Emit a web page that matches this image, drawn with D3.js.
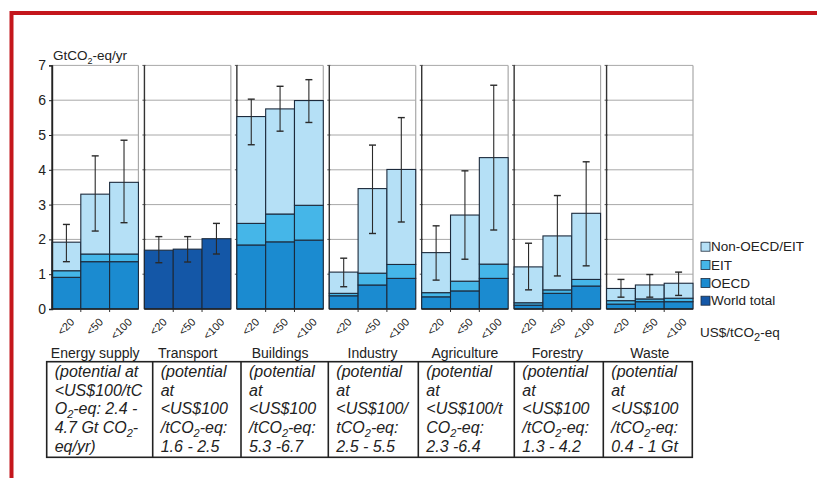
<!DOCTYPE html>
<html>
<head>
<meta charset="utf-8">
<script src="https://cdn.jsdelivr.net/npm/d3@7"></script>
<style>
  body { margin: 0; background: #fff; }
  text { font-family: "Liberation Sans", Arial, sans-serif; fill: #222; }
</style>
</head>
<body>
<div id="container"></div>
<script>
/* DATA */
const sectors = ["Energy supply", "Transport", "Buildings", "Industry", "Agriculture", "Forestry", "Waste"];
const prices = ["<20", "<50", "<100"];

// stacked values per sector (GtCO2-eq/yr), one per price level
const oecd = [
  [0.91, 1.36, 1.36],
  [null, null, null],
  [1.84, 1.93, 1.98],
  [0.38, 0.69, 0.88],
  [0.35, 0.52, 0.88],
  [0.11, 0.45, 0.66],
  [0.14, 0.21, 0.21]
];
const eit = [
  [1.10, 1.58, 1.58],
  [null, null, null],
  [2.46, 2.73, 2.98],
  [0.45, 1.03, 1.28],
  [0.47, 0.80, 1.29],
  [0.18, 0.55, 0.85],
  [0.24, 0.29, 0.31]
];
const total = [
  [1.92, 3.30, 3.64],
  [1.69, 1.72, 2.02],
  [5.53, 5.75, 5.99],
  [1.06, 3.46, 4.01],
  [1.62, 2.70, 4.35],
  [1.21, 2.10, 2.75],
  [0.59, 0.69, 0.74]
];
const errLow = [
  [1.36, 2.24, 2.48],
  [1.33, 1.35, 1.58],
  [4.72, 5.11, 5.36],
  [0.64, 2.17, 2.50],
  [0.83, 1.43, 2.27],
  [0.55, 0.95, 1.24],
  [0.34, 0.34, 0.39]
];
const errHigh = [
  [2.43, 4.40, 4.85],
  [2.08, 2.08, 2.46],
  [6.03, 6.40, 6.59],
  [1.46, 4.71, 5.50],
  [2.39, 3.97, 6.43],
  [1.89, 3.26, 4.23],
  [0.85, 0.99, 1.06]
];
const yTicks = [0, 1, 2, 3, 4, 5, 6, 7];

const legendLabels = ["Non-OECD/EIT", "EIT", "OECD", "World total"];

// table text, "_2" marks a subscript 2
const notes = [
  ["(potential at", "<US$100/tC", "O_2-eq: 2.4 -", "4.7 Gt CO_2-", "eq/yr)"],
  ["(potential", "at", "<US$100", "/tCO_2-eq:", "1.6 - 2.5"],
  ["(potential", "at", "<US$100", "/tCO_2-eq:", "5.3 -6.7"],
  ["(potential", "at", "<US$100/", "tCO_2-eq:", "2.5 - 5.5"],
  ["(potential", "at", "<US$100/t", "CO_2-eq:", "2.3  -6.4"],
  ["(potential", "at", "<US$100", "/tCO_2-eq:", "1.3 - 4.2"],
  ["(potential", "at", "<US$100", "/tCO_2-eq:", "0.4 - 1 Gt"]
];

/* CONSTANTS */
const width = 817, height = 478;
const plot = {left: 52, right: 693, top: 65.4, bottom: 309};
const colors = {
  nonOecd: "#b5e0f6",
  eit: "#45b6e8",
  oecd: "#1b8bd0",
  world: "#1457a7"
};
const legendColors = [colors.nonOecd, colors.eit, colors.oecd, colors.world];
const tableEdges = [46.7, 152.7, 241, 328.3, 418.3, 514.3, 603.3, 692.3];
const tableTop = 361.7, tableBottom = 457.3;

const svg = d3.select("#container")
  .append("svg")
  .attr("width", width)
  .attr("height", height);

// red frame
svg.append("rect").attr("x", 10).attr("y", 11).attr("width", width - 10).attr("height", 4).attr("fill", "#c4161c");
svg.append("rect").attr("x", 9.5).attr("y", 11).attr("width", 4).attr("height", height - 11).attr("fill", "#c4161c");

/* SCALES */
const xPanel = d3.scaleBand()
  .domain(sectors)
  .range([plot.left, plot.right])
  .paddingInner(0.065);

const xBar = d3.scaleBand()
  .domain(prices)
  .range([0, xPanel.bandwidth()]);

const yScale = d3.scaleLinear()
  .domain([0, 7])
  .range([plot.bottom, plot.top]);

// helper for text with subscripts
function richText(sel, str, subSize) {
  const parts = str.split("_2");
  parts.forEach((p, i) => {
    if (i > 0) {
      sel.append("tspan").attr("font-size", subSize).attr("dy", 4).text("2");
      sel.append("tspan").attr("dy", -4).text(p);
    } else {
      sel.append("tspan").text(p);
    }
  });
}

/* PANELS */
sectors.forEach((s, i) => {
  const g = svg.append("g").attr("transform", `translate(${xPanel(s)},0)`);
  const w = xPanel.bandwidth();

  // gridlines
  g.selectAll("line.grid")
    .data(yTicks.slice(1))
    .join("line")
    .attr("class", "grid")
    .attr("x1", 0).attr("x2", w)
    .attr("y1", d => yScale(d)).attr("y2", d => yScale(d))
    .attr("stroke", "#a8a8a8").attr("stroke-width", 1);

  if (i > 0) {
    g.selectAll("line.tk")
      .data(yTicks.slice(1))
      .join("line")
      .attr("class", "tk")
      .attr("x1", -2).attr("x2", 1)
      .attr("y1", d => yScale(d)).attr("y2", d => yScale(d))
      .attr("stroke", "#555");
  }

  // panel borders
  g.append("line").attr("x1", w).attr("x2", w).attr("y1", yScale(7)).attr("y2", yScale(0))
    .attr("stroke", "#a8a8a8").attr("stroke-width", 1.2);
  g.append("line").attr("x1", 0).attr("x2", 0).attr("y1", yScale(7)).attr("y2", yScale(0))
    .attr("stroke", "#333").attr("stroke-width", 1.4);

  // bar segments
  const segs = [];
  prices.forEach((p, j) => {
    if (oecd[i][j] == null) {
      segs.push({p, y0: 0, y1: total[i][j], c: colors.world});
    } else {
      segs.push({p, y0: 0, y1: oecd[i][j], c: colors.oecd});
      segs.push({p, y0: oecd[i][j], y1: eit[i][j], c: colors.eit});
      segs.push({p, y0: eit[i][j], y1: total[i][j], c: colors.nonOecd});
    }
  });

  g.selectAll("rect.seg")
    .data(segs)
    .join("rect")
    .attr("class", "seg")
    .attr("x", d => xBar(d.p))
    .attr("width", xBar.bandwidth())
    .attr("y", d => yScale(d.y1))
    .attr("height", d => yScale(d.y0) - yScale(d.y1))
    .attr("fill", d => d.c)
    .attr("stroke", "#1c2a3c")
    .attr("stroke-width", 1.1);

  // error bars
  const errs = prices.map((p, j) => ({p, lo: errLow[i][j], hi: errHigh[i][j]}));
  const eg = g.selectAll("g.err")
    .data(errs)
    .join("g")
    .attr("class", "err")
    .attr("transform", d => `translate(${xBar(d.p) + xBar.bandwidth() / 2},0)`);
  eg.append("line").attr("y1", d => yScale(d.lo)).attr("y2", d => yScale(d.hi))
    .attr("stroke", "#2a2a2a").attr("stroke-width", 1.1);
  eg.append("line").attr("x1", -3.5).attr("x2", 3.5).attr("y1", d => yScale(d.lo)).attr("y2", d => yScale(d.lo))
    .attr("stroke", "#2a2a2a").attr("stroke-width", 1.4);
  eg.append("line").attr("x1", -3.5).attr("x2", 3.5).attr("y1", d => yScale(d.hi)).attr("y2", d => yScale(d.hi))
    .attr("stroke", "#2a2a2a").attr("stroke-width", 1.4);

  // baseline + ticks
  g.append("line").attr("x1", 0).attr("x2", w).attr("y1", yScale(0)).attr("y2", yScale(0))
    .attr("stroke", "#222").attr("stroke-width", 1.5);
  g.selectAll("line.xt")
    .data(prices.slice(1))
    .join("line")
    .attr("class", "xt")
    .attr("x1", d => xBar(d)).attr("x2", d => xBar(d))
    .attr("y1", yScale(0)).attr("y2", yScale(0) + 3)
    .attr("stroke", "#333");

  // price labels
  g.selectAll("text.price")
    .data(prices)
    .join("text")
    .attr("class", "price")
    .attr("transform", d => `translate(${xBar(d) + xBar.bandwidth() / 2 + 6},${yScale(0) + 11}) rotate(-45)`)
    .attr("text-anchor", "end")
    .attr("dy", "0.35em")
    .attr("font-size", 11)
    .text(d => d);
});

/* Y AXIS */
const yAxis = d3.axisLeft(yScale).tickValues(yTicks).tickSize(3).tickFormat(d3.format("d"));
const yAxisGroup = svg.append("g")
  .attr("transform", `translate(${plot.left},0)`)
  .call(yAxis);
yAxisGroup.attr("font-size", 14).attr("font-family", "Liberation Sans, Arial, sans-serif");
yAxisGroup.select(".domain").attr("stroke", "#222").attr("stroke-width", 1.4);
yAxisGroup.selectAll(".tick line").attr("stroke", "#222");
yAxisGroup.selectAll(".tick text").attr("fill", "#222").attr("x", -6);

const yTitle = svg.append("text")
  .attr("x", 53).attr("y", 60)
  .attr("font-size", 13.5);
richText(yTitle, "GtCO_2-eq/yr", 9);

/* LEGEND */
const lg = svg.append("g").attr("transform", "translate(701,0)");
const legendY = [246.7, 265, 283, 300.7];
lg.selectAll("rect")
  .data(legendLabels)
  .join("rect")
  .attr("x", 0).attr("y", (d, i) => legendY[i] - 4.5)
  .attr("width", 9).attr("height", 9)
  .attr("fill", (d, i) => legendColors[i])
  .attr("stroke", "#1c2a3c").attr("stroke-width", 0.8);
lg.selectAll("text")
  .data(legendLabels)
  .join("text")
  .attr("x", 10).attr("y", (d, i) => legendY[i])
  .attr("dy", "0.35em")
  .attr("font-size", 13.5)
  .text(d => d);

const unit = svg.append("text")
  .attr("x", 700).attr("y", 337)
  .attr("font-size", 13.5);
richText(unit, "US$/tCO_2-eq", 11);

/* TABLE */
svg.selectAll("text.sector")
  .data(sectors)
  .join("text")
  .attr("class", "sector")
  .attr("x", d => xPanel(d) + xPanel.bandwidth() / 2)
  .attr("y", 357.5)
  .attr("text-anchor", "middle")
  .attr("font-size", 14)
  .text(d => d);

svg.append("rect")
  .attr("x", tableEdges[0]).attr("y", tableTop)
  .attr("width", tableEdges[tableEdges.length - 1] - tableEdges[0])
  .attr("height", tableBottom - tableTop)
  .attr("fill", "none").attr("stroke", "#222").attr("stroke-width", 1.6);

svg.selectAll("line.col")
  .data(tableEdges.slice(1, -1))
  .join("line")
  .attr("class", "col")
  .attr("x1", d => d).attr("x2", d => d)
  .attr("y1", tableTop).attr("y2", tableBottom)
  .attr("stroke", "#222").attr("stroke-width", 1.6);

notes.forEach((lines, i) => {
  lines.forEach((ln, k) => {
    const t = svg.append("text")
      .attr("x", tableEdges[i] + 8)
      .attr("y", 377 + k * 18.7)
      .attr("font-size", 16)
      .attr("font-style", "italic");
    richText(t, ln, 11);
  });
});
</script>
</body>
</html>
